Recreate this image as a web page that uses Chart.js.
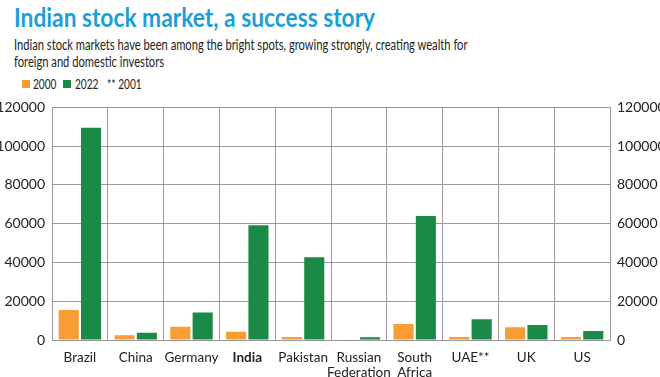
<script src="https://cdn.jsdelivr.net/npm/chart.js@4.4.1/dist/chart.umd.min.js"></script>
<body>
<style>
    body { margin: 0; background: #fff; width: 660px; height: 377px; position: relative; overflow: hidden; font-family: Lato, sans-serif; }
    .squeeze { position: absolute; transform-origin: 0 0; white-space: nowrap; }
    #title { left: 14px; top: 1px; font-size: 26px; font-weight: bold; color: #1b9fd8; transform: scaleX(0.875); }
    #subtitle { left: 14px; top: 36px; font-size: 15.5px; line-height: 17px; color: #222; transform: scaleX(0.72); }
    .lg { top: 76px; font-size: 13.5px; color: #222; transform: scaleX(0.75); }
    .box { position: absolute; top: 80px; width: 8px; height: 8px; }
    .chart-wrapper { position: absolute; left: 0; top: 92px; width: 660px; height: 285px; }
</style>

<div id="title" class="squeeze">Indian stock market, a success story</div>
<div id="subtitle" class="squeeze">Indian stock markets have been among the bright spots, growing strongly, creating wealth for<br>foreign and domestic investors</div>
<div id="legend"></div>
<div class="chart-wrapper"><canvas id="chart1" width="660" height="285"></canvas></div>

<script>
    // data
    var countries = ["Brazil", "China", "Germany", "India", "Pakistan", ["Russian", "Federation"], ["South", "Africa"], "UAE**", "UK", "US"];
    var values2000 = [15500, 2400, 6800, 4300, 1600, 200, 8200, 1600, 6600, 1500];
    var values2022 = [109500, 3700, 14200, 59200, 42700, 1400, 64000, 10700, 7700, 4700];
    var yTicks = [0, 20000, 40000, 60000, 80000, 100000, 120000];

    var orange = "#f89c35";
    var green = "#1b8a47";
    var fontFam = "Lato, sans-serif";

    document.getElementById("legend").innerHTML =
        "<span class='box' style='left:22px;background:" + orange + "'></span>" +
        "<span class='squeeze lg' style='left:33px'>2000</span>" +
        "<span class='box' style='left:63px;background:" + green + "'></span>" +
        "<span class='squeeze lg' style='left:75px'>2022</span>" +
        "<span class='squeeze lg' style='left:107px'>** 2001</span>";

    function plainTicks(s) {
        s.ticks = yTicks.map(function (v) { return { value: v }; });
    }

    var chrt = document.getElementById("chart1").getContext("2d");
    var chartId = new Chart(chrt, {
        type: 'bar',
        data: {
            labels: countries,
            datasets: [
                { label: "2000", data: values2000, backgroundColor: orange, yAxisID: 'y' },
                { label: "2022", data: values2022, backgroundColor: green, yAxisID: 'y' }
            ]
        },
        options: {
            responsive: false,
            animation: false,
            categoryPercentage: 0.8,
            barPercentage: 0.9,
            layout: { padding: { top: 5, left: 0, right: 0, bottom: 0 } },
            plugins: { legend: { display: false }, tooltip: { enabled: false } },
            scales: {
                x: {
                    grid: { color: "#9a9a9a", lineWidth: 1, drawTicks: false },
                    border: { color: "#9a9a9a" },
                    ticks: {
                        color: "#222",
                        padding: 11,
                        maxRotation: 0,
                        autoSkip: false,
                        font: function (ctx) {
                            var lbl = ctx.tick ? ctx.tick.label : "";
                            return { family: fontFam, size: 13.5, weight: lbl === "India" ? "bold" : "normal", lineHeight: 1.05 };
                        }
                    },
                    afterFit: function (s) { s.height = 37; }
                },
                y: {
                    position: 'left',
                    min: 0, max: 120000,
                    afterBuildTicks: plainTicks,
                    grid: { color: "#9a9a9a", lineWidth: 1, drawTicks: false },
                    border: { color: "#9a9a9a" },
                    ticks: { color: "#222", padding: 7, font: { family: fontFam, size: 14 }, callback: function (v) { return String(v); } },
                    afterFit: function (s) { s.width = 52; }
                },
                y2: {
                    position: 'right',
                    min: 0, max: 120000,
                    afterBuildTicks: plainTicks,
                    grid: { display: false, drawTicks: false },
                    border: { color: "#9a9a9a" },
                    ticks: { color: "#222", padding: 7, font: { family: fontFam, size: 14 }, callback: function (v) { return String(v); } },
                    afterFit: function (s) { s.width = 50; }
                }
            }
        }
    });
</script>
</body>
